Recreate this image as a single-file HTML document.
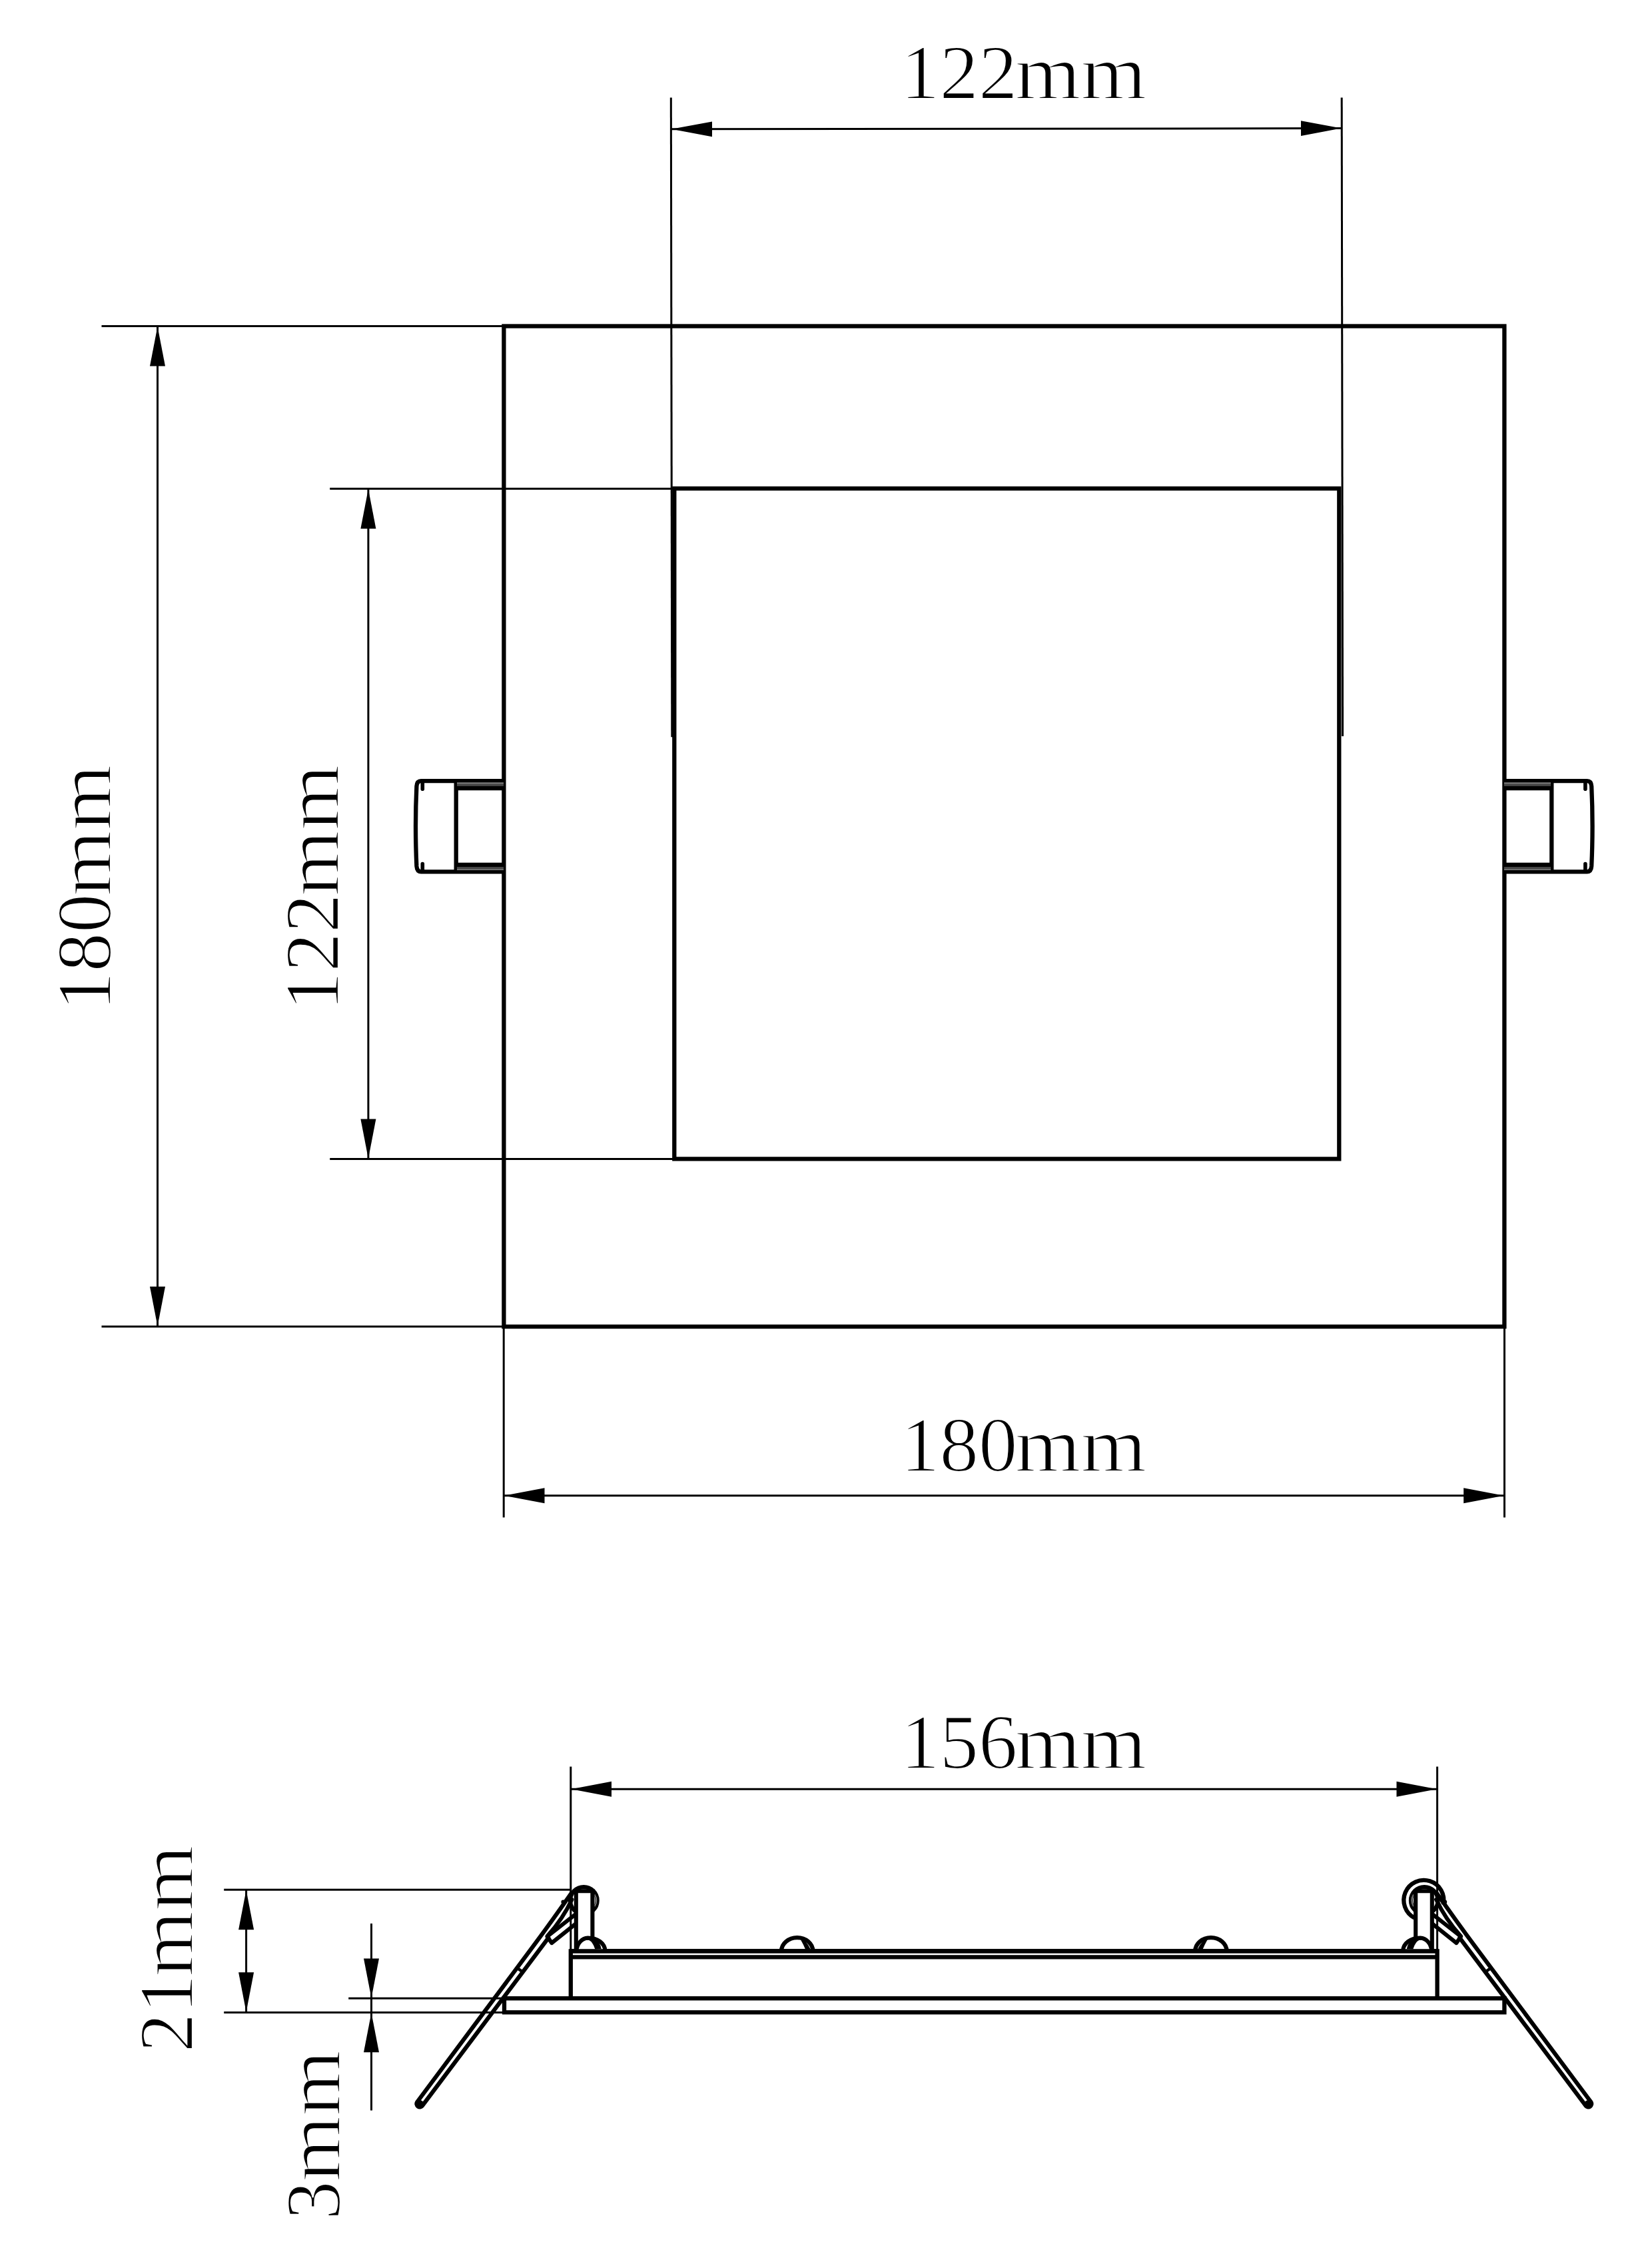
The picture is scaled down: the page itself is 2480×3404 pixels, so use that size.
<!DOCTYPE html>
<html lang="en">
<head>
<meta charset="utf-8">
<title>Dimension drawing</title>
<style>
  html, body { margin: 0; padding: 0; background: #ffffff; }
  body { width: 2480px; height: 3404px; overflow: hidden; }
  svg { display: block; }
  .lbl { font-family: "Liberation Serif", "DejaVu Serif", serif; font-size: 117px; fill: #000; stroke: #fff; stroke-width: 2.2; paint-order: fill stroke; }
  .thin { stroke: #000; stroke-width: 3; fill: none; }
  .thick { stroke: #000; stroke-width: 6.3; fill: none; stroke-linejoin: miter; }
  .ar { fill: #000; stroke: none; }
</style>
</head>
<body>
<svg width="2480" height="3404" viewBox="0 0 2480 3404">
  <rect x="0" y="0" width="2480" height="3404" fill="#ffffff"/>

  <!-- ================= TOP VIEW ================= -->
  <g id="top-view">
    <!-- outer square 180mm -->
    <rect class="thick" x="756.4" y="489.5" width="1502" height="1501.6"/>
    <!-- inner square 122mm -->
    <rect class="thick" x="1012.3" y="733.2" width="998" height="1006.2"/>

    <!-- left spring clip -->
    <g id="clip-left">
      <path class="thick" d="M756 1172.2 H632 Q626 1172.2 625.4 1180 Q622.6 1240 625.4 1300 Q626 1308.3 632 1308.3 H756" stroke-width="5.8"/>
      <line class="thick" x1="684.7" y1="1172.2" x2="684.7" y2="1308.3" stroke-width="5.8"/>
      <rect x="686" y="1174" width="70" height="8" fill="#4a4a4a"/>
      <line x1="686" y1="1175.4" x2="756.0" y2="1175.4" stroke="#9a9a9a" stroke-width="0.9"/>
      <line x1="686" y1="1180.4" x2="756.0" y2="1180.4" stroke="#9a9a9a" stroke-width="0.9"/>
      <rect x="686" y="1298" width="70" height="8" fill="#4a4a4a"/>
      <line x1="686" y1="1300.6" x2="756.0" y2="1300.6" stroke="#9a9a9a" stroke-width="0.9"/>
      <line x1="686" y1="1305.4" x2="756.0" y2="1305.4" stroke="#9a9a9a" stroke-width="0.9"/>
      <line class="thick" x1="684.7" y1="1183" x2="756" y2="1183" stroke-width="5.6"/>
      <line class="thick" x1="684.7" y1="1298" x2="756" y2="1298" stroke-width="5.6"/>
      <line x1="634.3" y1="1174" x2="634.3" y2="1184.2" stroke="#000" stroke-width="5.6" stroke-linecap="round"/>
      <line x1="634.3" y1="1296.6" x2="634.3" y2="1306.5" stroke="#000" stroke-width="5.6" stroke-linecap="round"/>
    </g>
    <!-- right spring clip -->
    <g id="clip-right">
      <path class="thick" d="M2258 1172.2 H2382.6 Q2388.6 1172.2 2389.2 1180 Q2392 1240 2389.2 1300 Q2388.6 1308.3 2382.6 1308.3 H2258" stroke-width="5.8"/>
      <line class="thick" x1="2329.3" y1="1172.2" x2="2329.3" y2="1308.3" stroke-width="5.8"/>
      <rect x="2258" y="1174" width="70" height="8" fill="#4a4a4a"/>
      <line x1="2258" y1="1175.4" x2="2328.0" y2="1175.4" stroke="#9a9a9a" stroke-width="0.9"/>
      <line x1="2258" y1="1180.4" x2="2328.0" y2="1180.4" stroke="#9a9a9a" stroke-width="0.9"/>
      <rect x="2258" y="1298" width="70" height="8" fill="#4a4a4a"/>
      <line x1="2258" y1="1300.6" x2="2328.0" y2="1300.6" stroke="#9a9a9a" stroke-width="0.9"/>
      <line x1="2258" y1="1305.4" x2="2328.0" y2="1305.4" stroke="#9a9a9a" stroke-width="0.9"/>
      <line class="thick" x1="2258" y1="1183" x2="2329.3" y2="1183" stroke-width="5.6"/>
      <line class="thick" x1="2258" y1="1298" x2="2329.3" y2="1298" stroke-width="5.6"/>
      <line x1="2379.9" y1="1174" x2="2379.9" y2="1184.2" stroke="#000" stroke-width="5.6" stroke-linecap="round"/>
      <line x1="2379.9" y1="1296.6" x2="2379.9" y2="1306.5" stroke="#000" stroke-width="5.6" stroke-linecap="round"/>
    </g>

    <!-- 122mm horizontal dimension (top) -->
    <line class="thin" x1="1007.3" y1="146.6" x2="1008.8" y2="1106.3"/>
    <line class="thin" x1="2014.2" y1="146.6" x2="2015.6" y2="1105"/>
    <line class="thin" x1="1008" y1="193.8" x2="2014" y2="192.6"/>
    <polygon class="ar" points="1008.3,193.8 1069,182.4 1069,205.2"/>
    <polygon class="ar" points="2013.6,192.6 1953,181.2 1953,204"/>

    <!-- 180mm vertical dimension (far left) -->
    <line class="thin" x1="152.5" y1="489.5" x2="756" y2="489.5"/>
    <line class="thin" x1="152.5" y1="1991.1" x2="756" y2="1991.1"/>
    <line class="thin" x1="236.5" y1="489.5" x2="236.5" y2="1991"/>
    <polygon class="ar" points="236.5,490 225,549.5 248,549.5"/>
    <polygon class="ar" points="236.5,1990.6 225,1931 248,1931"/>

    <!-- 122mm vertical dimension -->
    <line class="thin" x1="495.2" y1="733.4" x2="1012" y2="733.4"/>
    <line class="thin" x1="495.2" y1="1739.5" x2="1012" y2="1739.5"/>
    <line class="thin" x1="552.9" y1="733.4" x2="552.9" y2="1739.5"/>
    <polygon class="ar" points="552.9,734 541.4,793.5 564.4,793.5"/>
    <polygon class="ar" points="552.9,1739 541.4,1679.5 564.4,1679.5"/>

    <!-- 180mm horizontal dimension (bottom) -->
    <line class="thin" x1="756.2" y1="1991" x2="756.2" y2="2277.6"/>
    <line class="thin" x1="2258.5" y1="1991" x2="2258.5" y2="2277.6"/>
    <line class="thin" x1="756.2" y1="2244.7" x2="2258.5" y2="2244.7"/>
    <polygon class="ar" points="757,2244.7 817.5,2233.2 817.5,2256.2"/>
    <polygon class="ar" points="2257.7,2244.7 2197.2,2233.2 2197.2,2256.2"/>
  </g>

  <!-- ================= LABELS ================= -->
  <g id="labels" class="lbl">
    <g transform="translate(1352 147.5)">
      <text x="0" y="0">122</text>
      <text x="0" y="0" transform="translate(171.7 0) scale(1.085 1)">mm</text>
    </g>
    <g transform="translate(1352 2207.5)">
      <text x="0" y="0">180</text>
      <text x="0" y="0" transform="translate(171.7 0) scale(1.085 1)">mm</text>
    </g>
    <g transform="translate(1352 2654.3)">
      <text x="0" y="0">156</text>
      <text x="0" y="0" transform="translate(171.7 0) scale(1.085 1)">mm</text>
    </g>
    <g transform="translate(166.3 1517.1) rotate(-90)">
      <text x="0" y="0">180</text>
      <text x="0" y="0" transform="translate(172 0) scale(1.085 1)">mm</text>
    </g>
    <g transform="translate(507.7 1517.1) rotate(-90)">
      <text x="0" y="0">122</text>
      <text x="0" y="0" transform="translate(172 0) scale(1.085 1)">mm</text>
    </g>
    <g transform="translate(289.2 3080.3) rotate(-90)">
      <text x="0" y="0">21</text>
      <text x="0" y="0" transform="translate(113.5 0) scale(1.085 1)">mm</text>
    </g>
    <g transform="translate(509.8 3331.8) rotate(-90)">
      <text x="0" y="0">3</text>
      <text x="0" y="0" transform="translate(57.4 0) scale(1.085 1)">mm</text>
    </g>
  </g>

  <!-- ================= SIDE VIEW ================= -->
  <g id="side-view">
    <!-- dimension: 156mm -->
    <line class="thin" x1="856.8" y1="2651.4" x2="856.8" y2="2930"/>
    <line class="thin" x1="2157.6" y1="2651.4" x2="2157.6" y2="2930"/>
    <line class="thin" x1="857" y1="2685.3" x2="2157.5" y2="2685.3"/>
    <polygon class="ar" points="857.5,2685.3 918,2673.8 918,2696.8"/>
    <polygon class="ar" points="2157,2685.3 2096.5,2673.8 2096.5,2696.8"/>

    <!-- dimension: 21mm -->
    <line class="thin" x1="336.2" y1="2836.2" x2="858" y2="2836.2"/>
    <line class="thin" x1="336.2" y1="3020.4" x2="757" y2="3020.4"/>
    <line class="thin" x1="369.6" y1="2836.2" x2="369.6" y2="3020.4"/>
    <polygon class="ar" points="369.6,2836.8 358.1,2896.3 381.1,2896.3"/>
    <polygon class="ar" points="369.6,3019.8 358.1,2960.3 381.1,2960.3"/>

    <!-- dimension: 3mm -->
    <line class="thin" x1="523.2" y1="2999.3" x2="757" y2="2999.3"/>
    <line class="thin" x1="557.5" y1="2887.1" x2="557.5" y2="3167.5"/>
    <polygon class="ar" points="557.5,2998.8 546,2939.5 569,2939.5"/>
    <polygon class="ar" points="557.5,3021 546,3080.2 569,3080.2"/>

    <!-- lamp body -->
    <path class="thick" d="M856.8 3000 V2928.4 H2157.6 V3000"/>
    <line class="thick" x1="856.8" y1="2937.3" x2="2157.6" y2="2937.3" stroke-width="5.8"/>
    <!-- face plate / flange -->
    <rect class="thick" x="757" y="2999.3" width="1501.4" height="21"/>

    <!-- middle bumps -->
    <g id="bump">
      <path class="thick" d="M1173 2928.6 A23.7 20.4 0 0 1 1220.4 2928.6"/>
      <path d="M1203.5 2912 Q1210 2914 1215 2924.5 L1210 2925.5 Q1207 2918 1203.5 2912 Z" fill="#000" stroke="#000" stroke-width="2"/>
    </g>
    <use href="#bump" transform="translate(3014.6 0) scale(-1 1)"/>

    <!-- left spring assembly (mirrored for the right side) -->
    <g id="asm">
      <!-- coil circle behind post -->
      <circle class="thick" cx="876.3" cy="2852.4" r="20.3"/>
      <path d="M892.6 2843.5 A17 17 0 0 1 892.6 2861.3" fill="none" stroke="#777" stroke-width="2"/>
      <!-- post -->
      <path d="M864.8 2928 V2838.2 H889.4 V2912" fill="#fff" stroke="#000" stroke-width="6.1"/>
      <!-- long leg: two slightly converging outline strokes joined by a round tip -->
      <path d="M858 2841 Q828 2884 800 2921.7 L626.1 3155 A4.85 4.85 0 0 0 633.9 3160.7 L823.2 2908.6" fill="none" stroke="#000" stroke-width="6.2" stroke-linejoin="round" stroke-linecap="round"/>
      <circle cx="630.4" cy="3157.4" r="5.4" fill="#000"/>
      <!-- joint mark across the leg -->
      <line x1="776.2" y1="2953.6" x2="785.2" y2="2960" stroke="#000" stroke-width="4.6"/>
      <!-- inner wire curving up to the coil -->
      <path d="M822 2905.5 Q845 2880 858.5 2851" fill="none" stroke="#000" stroke-width="6" stroke-linecap="round"/>
      <!-- short leg -->
      <path d="M864.6 2872.6 L821.5 2906.5 L828.3 2916.2 L864.6 2887.2" fill="none" stroke="#000" stroke-width="6" stroke-linejoin="round" stroke-linecap="butt"/>
      <circle cx="845.6" cy="2854.6" r="3.2" fill="#000"/>
      <!-- base bump of post -->
      <path d="M865.2 2928.4 C866.5 2916 874 2909 882.5 2908.6 C897 2908.6 908 2916.5 908.6 2928.4" fill="#fff" stroke="#000" stroke-width="6.1"/>
      <path d="M884 2910.5 Q891 2914 894 2924.5 L901.5 2924 Q900 2916 893 2911 Z" fill="#000" stroke="#000" stroke-width="2"/>
    </g>
    <use href="#asm" transform="translate(3014.6 0) scale(-1 1)"/>
    <!-- outer ring on the right coil -->
    <path class="thick" d="M2123.3 2878.4 A30 30 0 1 1 2166.6 2858.6" stroke-width="6"/>
    <!-- redraw body top edge over bumps' fills -->
    <line class="thick" x1="856.8" y1="2928.4" x2="2157.6" y2="2928.4"/>
  </g>

</svg>
</body>
</html>
